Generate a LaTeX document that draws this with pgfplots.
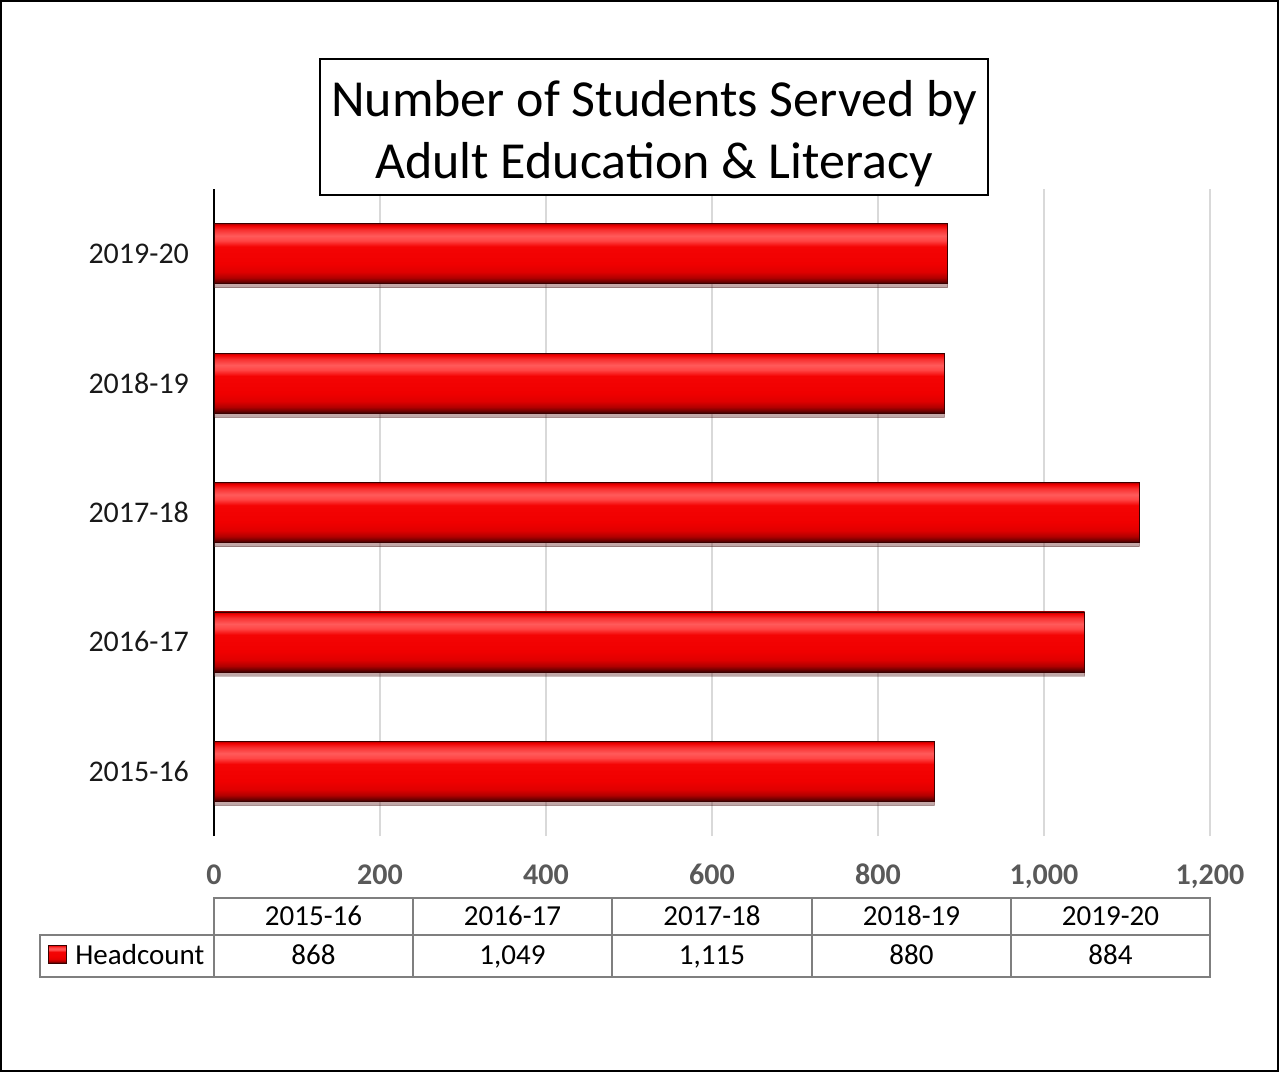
\documentclass[border=0pt]{standalone}
\usepackage{pgfplots}
\pgfplotsset{compat=1.18}
\usepackage{fontspec}
\setmainfont{Carlito}
\usetikzlibrary{shadows}
\definecolor{cA}{HTML}{3A0000}
\definecolor{cB}{HTML}{700000}
\definecolor{cC}{HTML}{B00000}
\definecolor{cD}{HTML}{E00000}
\definecolor{cE}{HTML}{F00000}
\definecolor{cF}{HTML}{F40404}
\definecolor{cG}{HTML}{FF4545}
\definecolor{cH}{HTML}{FF5A5A}
\definecolor{cI}{HTML}{F83030}
\definecolor{cJ}{HTML}{B00000}
\definecolor{gridgray}{HTML}{D9D9D9}
\definecolor{tabgray}{HTML}{7F7F7F}
\definecolor{tickgray}{HTML}{595959}
\pgfdeclareverticalshading{barshade}{100bp}{color(0bp)=(cA); color(25bp)=(cA); color(27bp)=(cB); color(30bp)=(cC); color(35bp)=(cD); color(42bp)=(cE); color(56bp)=(cF); color(61bp)=(cG); color(65bp)=(cH); color(70bp)=(cI); color(73.5bp)=(cE); color(75bp)=(cJ); color(100bp)=(cJ)}
\newcommand{\tf}{\fontsize{14.5}{17}\selectfont}
\newcommand{\tkf}{\fontsize{15}{18}\selectfont}
\tikzset{mybar/.style={xbar, bar width=30pt, bar shift=0pt, draw=cA, shading=barshade, line width=0.4pt,
    drop shadow={shadow xshift=0pt, shadow yshift=-2pt, opacity=0.25}}}
\begin{document}
\begin{tikzpicture}
\begin{axis}[
  at={(107pt,-418pt)}, anchor=south west,
  scale only axis, width=498pt, height=323.5pt,
  xmin=0, xmax=1200, ymin=-0.5, ymax=4.5,
  xbar, bar width=30pt, bar shift=0pt,
  axis x line*=bottom, x axis line style={draw=none},
  axis y line*=left, y axis line style={black, line width=1pt},
  major tick length=0pt,
  xtick={0,200,...,1200},
  ytick={0,1,2,3,4},
  yticklabels={2015-16,2016-17,2017-18,2018-19,2019-20},
  xmajorgrids, grid style={gridgray, line width=1pt},
  /pgf/number format/assume math mode=true,
  /pgf/number format/1000 sep={,},
  xticklabel style={font=\tkf\bfseries, text=tickgray, anchor=base, yshift=-24pt},
  yticklabel style={font=\tkf, text=black!90, xshift=-9pt},
  clip=false,
]
\addplot[mybar] coordinates {(868,0)};
\addplot[mybar] coordinates {(1049,1)};
\addplot[mybar] coordinates {(1115,2)};
\addplot[mybar] coordinates {(880,3)};
\addplot[mybar] coordinates {(884,4)};
\end{axis}
\begin{scope}[x=0.5pt,y=-0.5pt]
  % title
  \draw[black, line width=1pt, fill=white] (320,59) rectangle (988,195);
  \node[align=center, font=\fontsize{26}{31}\selectfont, inner sep=0pt, anchor=base] at (654,116)
        {Number of Students Served by};
  \node[align=center, font=\fontsize{26}{31}\selectfont, inner sep=0pt, anchor=base] at (654,178)
        {Adult Education \& Literacy};
  % data table
  \begin{scope}[draw=tabgray, line width=1pt]
    \draw (214,898) rectangle (1210,935);
    \draw (40,935) rectangle (1210,977);
    \foreach \xx in {214,413,612,812,1011} \draw (\xx,898) -- (\xx,977);
  \end{scope}
  \foreach \xx/\lab/\val in {313.5/2015-16/868, 512.5/2016-17/{1,049}, 712/2017-18/{1,115}, 911.5/2018-19/880, 1110.5/2019-20/884} {
    \node[font=\tf, inner sep=0pt, anchor=base] at (\xx,925) {\lab};
    \node[font=\tf, inner sep=0pt, anchor=base] at (\xx,964) {\val};
  }
  \shade[shading=barshade, draw=cA, line width=0.4pt] (48,945) rectangle (66,963);
  \node[font=\tf, anchor=base west, inner sep=0pt] at (75,964) {Headcount};
  % outer frame
  \draw[black, line width=1pt] (1,1) rectangle (1278,1071);
  \pgfresetboundingbox
  \path (0,0) rectangle (1279,1072);
\end{scope}
\end{tikzpicture}
\end{document}
